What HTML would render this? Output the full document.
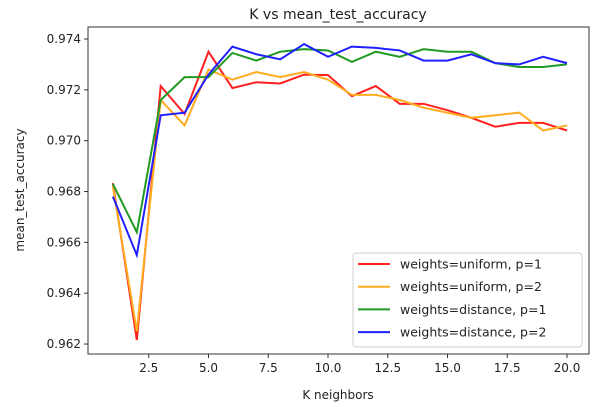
<!DOCTYPE html>
<html><head><meta charset="utf-8"><style>
body{margin:0;background:#fff;}
svg{display:block;font-family:"DejaVu Sans","Liberation Sans",sans-serif;}
</style></head><body>
<svg id="chart" width="603" height="407" viewBox="0 0 603 407">
<rect width="603" height="407" fill="#fff"/>
<text x="338" y="19" text-anchor="middle" font-size="14" fill="#222">K vs mean_test_accuracy</text>
<g id="grid"></g>
<g id="series"></g>
<rect x="88" y="27" width="501" height="327" fill="none" stroke="#333" stroke-width="1"/>
<text x="338" y="399" text-anchor="middle" font-size="12" fill="#222">K neighbors</text>
<text transform="translate(24,190) rotate(-90)" text-anchor="middle" font-size="12" fill="#222">mean_test_accuracy</text>
<g id="legend"></g>
</svg>
<script>
const ks=[1,2,3,4,5,6,7,8,9,10,11,12,13,14,15,16,17,18,19,20];
const uniformP1=[0.96833,0.96216,0.97215,0.97105,0.9735,0.97207,0.9723,0.97225,0.9726,0.97258,0.97175,0.97215,0.97145,0.97145,0.9712,0.9709,0.97055,0.9707,0.9707,0.9704];
const uniformP2=[0.9682,0.9625,0.9716,0.9706,0.9728,0.9724,0.9727,0.9725,0.9727,0.9724,0.9718,0.9718,0.9716,0.9713,0.9711,0.9709,0.9710,0.9711,0.9704,0.9706];
const distanceP1=[0.9683,0.9664,0.9716,0.9725,0.9725,0.97345,0.97315,0.9735,0.9736,0.97355,0.9731,0.9735,0.9733,0.9736,0.9735,0.9735,0.97305,0.9729,0.9729,0.9730];
const distanceP2=[0.9678,0.9655,0.9710,0.9711,0.9726,0.9737,0.9734,0.9732,0.9738,0.9733,0.9737,0.97365,0.97355,0.97315,0.97315,0.9734,0.97305,0.9730,0.9733,0.97305];
const xTicks=[2.5,5.0,7.5,10.0,12.5,15.0,17.5,20.0];
const yTicks=[0.962,0.964,0.966,0.968,0.970,0.972,0.974];
const seriesNames=["weights=uniform, p=1","weights=uniform, p=2","weights=distance, p=1","weights=distance, p=2"];
const seriesColors=["#ff2020","#ffac20","#229922","#2020ff"];
const NS="http://www.w3.org/2000/svg";
function xs(k){return 567+(k-20)*23.9;}
function ys(v){return 39+(0.974-v)/0.001*25.42;}
const grid=document.getElementById('grid');
xTicks.forEach(t=>{
 const l=document.createElementNS(NS,'line');
 
 
 l.setAttribute('x1',xs(t));l.setAttribute('x2',xs(t));l.setAttribute('y1',354);l.setAttribute('y2',358);l.setAttribute('stroke','#333');
 grid.appendChild(l);
 const tx=document.createElementNS(NS,'text');
 
 
 tx.setAttribute('x',xs(t));tx.setAttribute('y',372);tx.setAttribute('text-anchor','middle');tx.setAttribute('font-size','12');tx.setAttribute('fill','#222');
 tx.textContent=t.toFixed(1);grid.appendChild(tx);
});
yTicks.forEach(t=>{
 const l=document.createElementNS(NS,'line');
 
 
 l.setAttribute('x1',84);l.setAttribute('x2',88);l.setAttribute('y1',ys(t));l.setAttribute('y2',ys(t));l.setAttribute('stroke','#333');
 grid.appendChild(l);
 const tx=document.createElementNS(NS,'text');
 
 
 tx.setAttribute('x',81);tx.setAttribute('y',ys(t)+4);tx.setAttribute('text-anchor','end');tx.setAttribute('font-size','12');tx.setAttribute('fill','#222');
 tx.textContent=t.toFixed(3);grid.appendChild(tx);
});
const sg=document.getElementById('series');
[uniformP1,uniformP2,distanceP1,distanceP2].forEach((vals,i)=>{
 const p=document.createElementNS(NS,'polyline');
 
 
 p.setAttribute('points',vals.map((v,j)=>xs(ks[j])+','+ys(v)).join(' '));
 p.setAttribute('fill','none');p.setAttribute('stroke',seriesColors[i]);p.setAttribute('stroke-width','2');
 sg.appendChild(p);
});
const lg=document.getElementById('legend');
const box=document.createElementNS(NS,'rect');


box.setAttribute('x',353);box.setAttribute('y',253);box.setAttribute('width',229);box.setAttribute('height',94);box.setAttribute('rx',3);box.setAttribute('fill','#fff');box.setAttribute('stroke','#ccc');
lg.appendChild(box);
seriesNames.forEach((n,i)=>{
 const y=264+i*22.7;
 const l=document.createElementNS(NS,'line');
 
 
 l.setAttribute('x1',358);l.setAttribute('x2',390);l.setAttribute('y1',y);l.setAttribute('y2',y);l.setAttribute('stroke',seriesColors[i]);l.setAttribute('stroke-width','2');
 lg.appendChild(l);
 const t=document.createElementNS(NS,'text');
 
 
 t.setAttribute('x',400);t.setAttribute('y',y+4.5);t.setAttribute('font-size','12.5');t.setAttribute('fill','#222');
 t.textContent=n;lg.appendChild(t);
});
</script>
</body></html>
